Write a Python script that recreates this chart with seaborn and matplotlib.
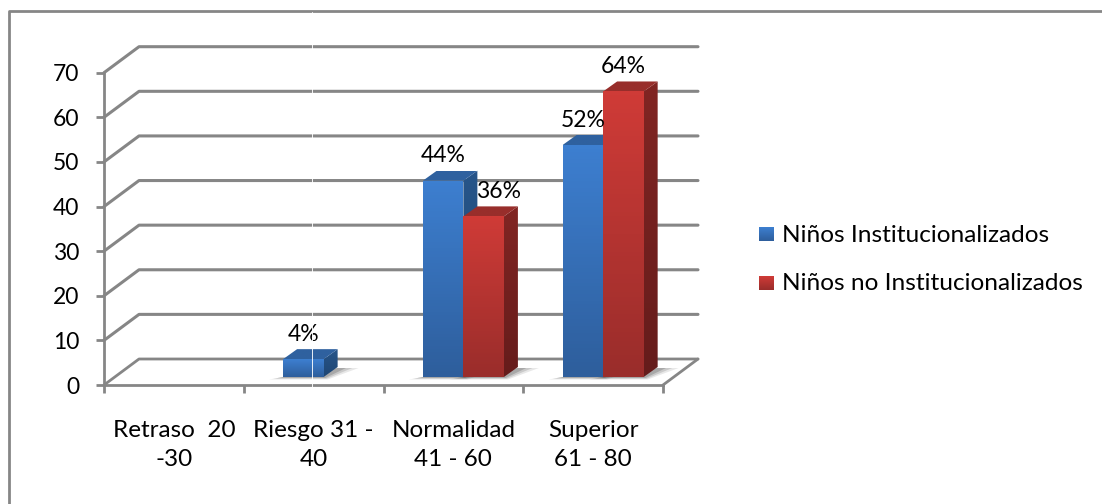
import numpy as np
import pandas as pd
import matplotlib
matplotlib.use("Agg")
import matplotlib.pyplot as plt
import seaborn as sns
from matplotlib.colors import LinearSegmentedColormap
from matplotlib.patches import Polygon
from matplotlib.transforms import IdentityTransform

# data
categories = ["Retraso  20\n-30", "Riesgo 31 -\n40", "Normalidad\n41 - 60", "Superior\n61 - 80"]
inst_values = [0, 4, 44, 52]
no_inst_values = [0, 0, 36, 64]
inst_labels = ["", "4%", "44%", "52%"]
no_inst_labels = ["", "", "36%", "64%"]
series_names = ["Niños Institucionalizados", "Niños no Institucionalizados"]
y_ticks = [0, 10, 20, 30, 40, 50, 60, 70]

W, H = 1102, 504
GREY = "#868686"
FONT_SIZE = 16.5
DEPTH = (35, 26)       # pixels, front plane to back wall
BAR_SHIFT = (10, 8)    # pixels, bars sit a little behind the front plane
BAR_DEPTH = (14, 10)   # pixels, depth of one bar

# front / top / side colours, each (top of gradient, bottom of gradient)
blue = {"front": ("#3D7FD0", "#2E5E9C"), "top": ("#2F619F", "#2F619F"), "side": ("#275589", "#1F4674")}
red = {"front": ("#CF3B37", "#9A2D2B"), "top": ("#982E2B", "#982E2B"), "side": ("#812523", "#651C1B")}

sns.set_theme(style="white")
plt.rcParams["font.family"] = ["Lato", "DejaVu Sans"]

df = pd.DataFrame({
    "category": categories * 2,
    "value": inst_values + no_inst_values,
    "series": [series_names[0]] * 4 + [series_names[1]] * 4,
})

fig = plt.figure(figsize=(W / 100, H / 100), dpi=100, facecolor="white")


def px_axes(left, top, right, bottom):
    return fig.add_axes([left / W, 1 - bottom / H, (right - left) / W, (bottom - top) / H])


# axis plane with ticks and labels
ax = px_axes(104, 72.7, 663, 385)
ax.set_xlim(-0.5, 3.5)
ax.set_ylim(0, 70)
ax.set_xticks(np.arange(-0.5, 4.5, 1))
ax.set_xticklabels([])
ax.set_xticks(range(4), categories, minor=True)
ax.set_yticks(y_ticks)
ax.tick_params(axis="y", length=5.8, width=2, color=GREY, labelsize=FONT_SIZE, pad=12, labelcolor="black", left=True)
ax.tick_params(axis="x", which="major", length=5.8, width=2, color=GREY, bottom=True)
ax.tick_params(axis="x", which="minor", length=0, pad=25, labelsize=17.5, labelcolor="black")
for label in ax.get_xticklabels(minor=True):
    label.set_linespacing(1.5)
for name, spine in ax.spines.items():
    spine.set_visible(name in ("left", "bottom"))
    spine.set_color(GREY)
    spine.set_linewidth(2)
ax.patch.set_visible(False)

# back wall gridlines and the slanted side wall, in pixels from the axis
for v in y_ticks:
    x0, y0 = ax.transData.transform((-0.5, v))
    x1, y1 = x0 + DEPTH[0], y0 + DEPTH[1]
    x2 = ax.transData.transform((3.5, v))[0] + DEPTH[0]
    ax.plot([x0, x1, x2], [y0, y1, y1], color=GREY, lw=2.2 if v else 2,
            transform=IdentityTransform(), clip_on=False, solid_joinstyle="round")
x0, y0 = ax.transData.transform((3.5, 0))
ax.plot([x0, x0 + DEPTH[0]], [y0, y0 + DEPTH[1]], color=GREY, lw=2,
        transform=IdentityTransform(), clip_on=False)

# bars live on their own axes, shifted into the floor
ax_bars = px_axes(104 + BAR_SHIFT[0], 72.7 - BAR_SHIFT[1], 663 + BAR_SHIFT[0], 385 - BAR_SHIFT[1])
ax_bars.patch.set_visible(False)
sns.barplot(data=df, x="category", y="value", hue="series", order=categories,
            hue_order=series_names, palette=["#3D7FD0", "#CF3B37"], width=0.58,
            gap=0, legend=False, ax=ax_bars, saturation=1)
ax_bars.set_xlim(-0.5, 3.5)
ax_bars.set_ylim(0, 70)
ax_bars.set_axis_off()

dx = BAR_DEPTH[0] * 4 / 559
dy = BAR_DEPTH[1] * 70 / 312.3


def gradient(poly, colors, zorder):
    # fill a polygon with a vertical gradient
    cmap = LinearSegmentedColormap.from_list("g", list(colors))
    xs, ys = zip(*poly)
    im = ax_bars.imshow(np.linspace(0, 1, 64).reshape(-1, 1), cmap=cmap, aspect="auto",
                        extent=(min(xs), max(xs), min(ys), max(ys)), origin="upper", zorder=zorder)
    clip = Polygon(poly, closed=True, transform=ax_bars.transData, fill=False, edgecolor="none")
    ax_bars.add_patch(clip)
    im.set_clip_path(clip)


bars = ax_bars.patches[:8]
for i, bar in enumerate(bars):
    bar.set_visible(False)
    h = bar.get_height()
    if h <= 0:
        continue
    style = blue if i < 4 else red
    z = 3 + (i % 4) * 3 + (1.5 if i >= 4 else 0)
    x, w = bar.get_x(), bar.get_width()
    # soft shadow on the floor
    for grow, alpha in [(1.0, 0.12), (0.7, 0.18), (0.4, 0.25)]:
        ax_bars.add_patch(Polygon(
            [(x - dx * 1.0 * grow, -0.55 * grow), (x + w + dx * 0.3 * grow, -0.55 * grow),
             (x + w + dx * (1 + 1.5 * grow), dy * 0.9), (x + w + dx, dy * 0.9)],
            closed=True, facecolor="#444444", edgecolor="none", alpha=alpha, zorder=1, clip_on=False))
    gradient([(x + w, 0), (x + w + dx, dy), (x + w + dx, h + dy), (x + w, h)], style["side"], z)
    gradient([(x, h), (x + w, h), (x + w + dx, h + dy), (x + dx, h + dy)], style["top"], z + 0.1)
    gradient([(x, 0), (x + w, 0), (x + w, h), (x, h)], style["front"], z + 0.2)

ax_bars.set_xlim(-0.5, 3.5)
ax_bars.set_ylim(0, 70)

# value labels
label_shift = {"36%": 15}
for i, bar in enumerate(bars):
    text = (inst_labels + no_inst_labels)[i]
    if text:
        ax_bars.annotate(text, (bar.get_x() + bar.get_width() / 2, bar.get_height()),
                         xytext=(label_shift.get(text, 0) * 0.72, 18), textcoords="offset points",
                         ha="center", va="center", fontsize=FONT_SIZE, color="black", zorder=40,
                         annotation_clip=False)

# thin pale seam running through the chart in the reference
fig.add_artist(plt.Line2D([311.5 / W] * 2, [1 - 392 / H, 1 - 12 / H], color="white", lw=0.7, alpha=0.9, zorder=20))

# legend, drawn by hand to get the gradient swatches
for name, colors, ypos in zip(series_names, [blue, red], [234, 283]):
    ax_leg = px_axes(759, ypos - 7, 774, ypos + 7)
    ax_leg.set_axis_off()
    cmap = LinearSegmentedColormap.from_list("g", list(colors["front"]))
    ax_leg.imshow(np.linspace(0, 1, 32).reshape(-1, 1), cmap=cmap, aspect="auto")
    fig.text(782 / W, 1 - (ypos + 1) / H, name, fontsize=17.6, color="black", va="center", ha="left")

# only the left and top edges of the outer frame are inside the crop
fig.add_artist(plt.Line2D([9 / W, 9 / W, 1], [0, 1 - 10.5 / H, 1 - 10.5 / H], color=GREY, lw=2, zorder=0))

fig.savefig("out.png", dpi=100)
